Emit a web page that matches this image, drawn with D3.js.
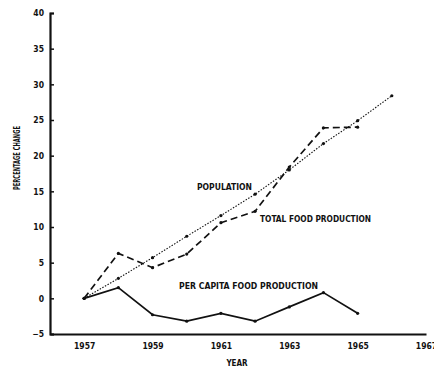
<!DOCTYPE html>
<html><head><meta charset="utf-8">
<script src="https://cdn.jsdelivr.net/npm/d3@7"></script>
<style>
body{margin:0;background:#fff;}
text{font-family:"DejaVu Sans Condensed","DejaVu Sans",sans-serif;font-weight:bold;fill:#111;}
</style></head><body>
<svg id="c" width="434" height="368"></svg>
<script>
const years = [1957,1958,1959,1960,1961,1962,1963,1964,1965,1966];
const population = [0,2.8,5.7,8.7,11.6,14.6,18.0,21.7,24.9,28.4];
const totalFood = [0,6.3,4.3,6.2,10.6,12.2,18.4,23.9,24.0];
const perCapita = [0,1.5,-2.3,-3.2,-2.1,-3.2,-1.2,0.8,-2.1];
const xTicks = [1957,1959,1961,1963,1965,1967];
const yTicks = [-5,0,5,10,15,20,25,30,35,40];

const svg = d3.select("#c");
const x = d3.scaleLinear().domain([1956,1967]).range([50,426]);
const y = d3.scaleLinear().domain([-5,40]).range([334,13]);

// axes
const yAxis = d3.axisLeft(y).tickValues(yTicks).tickSize(-4).tickPadding(6).tickFormat(d=>d<0?"\u2212"+Math.abs(d):d);
const gy = svg.append("g").attr("transform","translate(50,0)").call(yAxis);
gy.select(".domain").attr("stroke","#111").attr("stroke-width",2.2);
gy.selectAll(".tick line").attr("stroke","#111").attr("stroke-width",1.5);
gy.selectAll(".tick text").style("font-size","8.5px").attr("font-family","DejaVu Sans Condensed");

const xAxis = d3.axisBottom(x).tickValues(xTicks).tickSize(0).tickPadding(9).tickFormat(d3.format("d"));
const gx = svg.append("g").attr("transform","translate(0,334)").call(xAxis);
gx.select(".domain").attr("stroke","#111").attr("stroke-width",2.2);
gx.selectAll(".tick text").style("font-size","8.5px");

// lines
const line = d3.line().x((d,i)=>x(years[i])).y(d=>y(d));
function series(data, dash, w){
  svg.append("path").datum(data).attr("d",line).attr("fill","none")
    .attr("stroke","#111").attr("stroke-width",w).attr("stroke-dasharray",dash);
  svg.selectAll(null).data(data).enter().append("circle")
    .attr("cx",(d,i)=>x(years[i])).attr("cy",d=>y(d)).attr("r",1.6).attr("fill","#111");
}
series(population,"1.5,1.5",1.1);
series(totalFood,"7,4",1.7);
series(perCapita,null,1.7);

// labels
function label(t,xx,yy,len){
  svg.append("text").attr("x",xx).attr("y",yy).text(t).style("font-size","8px")
    .attr("textLength",len).attr("lengthAdjust","spacingAndGlyphs");
}
label("POPULATION",197,190,55);
label("TOTAL FOOD PRODUCTION",260,222,111);
label("PER CAPITA FOOD PRODUCTION",179,289,139);

svg.append("text").attr("transform","translate(20,158) rotate(-90)").attr("text-anchor","middle")
  .text("PERCENTAGE CHANGE").style("font-size","8px").attr("textLength",64).attr("lengthAdjust","spacingAndGlyphs");
svg.append("text").attr("x",237).attr("y",366).attr("text-anchor","middle")
  .text("YEAR").style("font-size","8px");
</script></body></html>
